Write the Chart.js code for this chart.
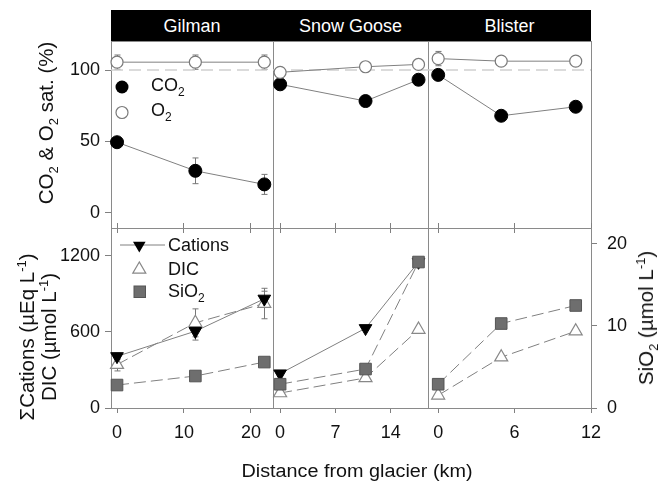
<!DOCTYPE html>
<html>
<head>
<meta charset="utf-8">
<script src="https://cdn.jsdelivr.net/npm/chart.js@4.4.0/dist/chart.umd.min.js"></script>
<style>
  body { margin: 0; width: 659px; height: 481px; background: #fff; position: relative; overflow: hidden;
         font-family: Arial, "Liberation Sans", sans-serif; color: #111; }
  canvas { position: absolute; }
  .hdr { position: absolute; top: 10px; height: 31px; background: #000; color: #fff; font-size: 18px;
         line-height: 33px; text-align: center; }
  .ttl { position: absolute; font-size: 20.5px; white-space: nowrap; line-height: 22px; text-align: center;
         transform: translate(-50%, -50%) rotate(-90deg); }
  .ttl sub, .ttl sup { font-size: 13px; }
  .xttl { position: absolute; font-size: 18px; white-space: nowrap; transform: translate(-50%, -50%) scaleX(1.1); }
  sub, sup { font-size: 12px; line-height: 0; }
  svg { position: absolute; left: 0; top: 0; }
</style>
</head>
<body>
<div class="hdr" style="left:111px;width:162px">Gilman</div>
<div class="hdr" style="left:273px;width:155px">Snow Goose</div>
<div class="hdr" style="left:428px;width:163px">Blister</div>

<canvas id="gilmanTop"></canvas>
<canvas id="snowTop"></canvas>
<canvas id="blisterTop"></canvas>
<canvas id="gilmanBottom"></canvas>
<canvas id="snowBottom"></canvas>
<canvas id="blisterBottom"></canvas>

<div class="ttl" style="left:46px;top:123px">CO<sub>2</sub> &amp; O<sub>2</sub> sat. (%)</div>
<div class="ttl" style="left:38px;top:337px">&Sigma;Cations (&micro;Eq L<sup>-1</sup>)<br>DIC (&micro;mol L<sup>-1</sup>)</div>
<div class="ttl" style="left:646px;top:318px">SiO<sub>2</sub> (&micro;mol L<sup>-1</sup>)</div>
<div class="xttl" style="left:357px;top:471px">Distance from glacier (km)</div>

<svg width="659" height="481" font-family="Arial, 'Liberation Sans', sans-serif" font-size="18" fill="#111">
  <circle cx="122" cy="87" r="6.5" fill="#000"/>
  <text x="151" y="91">CO<tspan font-size="12" dy="5">2</tspan></text>
  <circle cx="122" cy="112.5" r="6" fill="#fff" stroke="#7a7a7a" stroke-width="1.2"/>
  <text x="151" y="116">O<tspan font-size="12" dy="5">2</tspan></text>

  <line x1="120" y1="245" x2="165" y2="245" stroke="#808080" stroke-width="1"/>
  <polygon points="139.3,252.6 133,241.7 145.6,241.7" fill="#000"/>
  <text x="168" y="251">Cations</text>
  <polygon points="139.3,262 132.8,273.2 145.8,273.2" fill="#fff" stroke="#888" stroke-width="1.2"/>
  <text x="168" y="275">DIC</text>
  <rect x="134" y="286" width="11.5" height="11.5" fill="#6e6e6e" stroke="#555"/>
  <text x="168" y="297">SiO<tspan font-size="12" dy="5">2</tspan></text>
</svg>

<script>
// values
const gilmanKm = [0, 11.7, 22];
const snowGooseKm = [0, 10.8, 17.5];
const blisterKm = [0, 4.95, 10.8];

const gilmanCO2 = [49.5, 29.5, 20];
const gilmanCO2Err = [0, 9, 7];
const gilmanO2 = [105.5, 105.5, 105.5];
const gilmanO2Err = [5, 5, 5];
const snowGooseCO2 = [90, 78.3, 93.2];
const snowGooseO2 = [98.4, 102.3, 103.9];
const blisterCO2 = [96.6, 68, 74.3];
const blisterO2 = [108, 106.2, 106.2];
const blisterO2Err = [5, 0, 0];

const gilmanCations = [407, 605, 860];
const gilmanCationsErr = [25, 70, 60];
const gilmanDIC = [342, 671, 823];
const gilmanDICErr = [50, 110, 120];
const gilmanSiO2 = [2.8, 3.9, 5.6];
const snowGooseCations = [271, 628, 1150];
const snowGooseDIC = [118, 237, 618];
const snowGooseSiO2 = [2.9, 4.75, 17.8];
const blisterDIC = [100, 400, 605];
const blisterSiO2 = [2.9, 10.3, 12.5];

const gilmanKmTicks = [0, 10, 20];
const snowGooseKmTicks = [0, 7, 14];
const blisterKmTicks = [0, 6, 12];
const satTicks = [0, 50, 100];
const cationTicks = [0, 600, 1200];
const sio2Ticks = [0, 10, 20];
const satLevel = 100;

// axis ranges
const gilmanKmRange = [-0.9, 23.3];
const snowGooseKmRange = [-0.9, 18.7];
const blisterKmRange = [-0.8, 12];
const satRange = [-10.5, 120.3];
const cationRange = [0, 1418];
const sio2Range = [0, 21.95];

// panel boxes in page pixels
const cols = [[111, 273], [273, 428], [428, 591]];
const topRow = [41, 228];
const bottomRow = [228, 408];
const M = 60; // margin round each plot area, holds tick labels

const tickFont = { family: 'Arial, "Liberation Sans", sans-serif', size: 18 };
const gray = '#808080';

function pts(xs, ys) {
    return xs.map((x, i) => ({ x: x, y: ys[i] }));
}

function xAxis(range, ticks, position, showLabels) {
    return {
        type: 'linear', position: position, min: range[0], max: range[1],
        afterBuildTicks: (s) => { s.ticks = ticks.map((v) => ({ value: v })); },
        afterFit: (s) => { s.height = showLabels ? M : 0; },
        border: { display: false },
        grid: { drawOnChartArea: false, drawTicks: true, tickLength: 5, color: gray },
        ticks: { display: showLabels, font: tickFont, color: '#111', padding: 9, maxRotation: 0, autoSkip: false,
                 callback: (v) => String(v) }
    };
}

function yAxis(range, ticks, position, show, padding) {
    return {
        type: 'linear', position: position, min: range[0], max: range[1], display: show,
        afterBuildTicks: (s) => { s.ticks = ticks.map((v) => ({ value: v })); },
        afterFit: (s) => { s.width = show ? M : 0; },
        border: { display: false },
        grid: { drawOnChartArea: false, drawTicks: true, tickLength: 6, color: gray },
        ticks: { font: tickFont, color: '#111', padding: padding, autoSkip: false, callback: (v) => String(v) }
    };
}

// panel frame
const framePlugin = {
    id: 'frame',
    beforeDatasetsDraw(chart) {
        const a = chart.chartArea;
        const ctx = chart.ctx;
        ctx.save();
        ctx.strokeStyle = '#8a8a8a';
        ctx.lineWidth = 1;
        ctx.strokeRect(a.left + 0.5, a.top + 0.5, a.width, a.height);
        ctx.restore();
    }
};

// vertical error bars from dataset.errors
const errorBarPlugin = {
    id: 'errorBars',
    beforeDatasetsDraw(chart) {
        const ctx = chart.ctx;
        ctx.save();
        ctx.strokeStyle = '#777';
        ctx.lineWidth = 1;
        chart.data.datasets.forEach((ds, i) => {
            if (!ds.errors) return;
            const meta = chart.getDatasetMeta(i);
            const ys = chart.scales[ds.yAxisID || 'y'];
            ds.data.forEach((p, j) => {
                const e = ds.errors[j];
                if (!e) return;
                const px = Math.round(meta.data[j].x) + 0.5;
                const yTop = ys.getPixelForValue(p.y + e);
                const yBot = ys.getPixelForValue(p.y - e);
                ctx.beginPath();
                ctx.moveTo(px, yTop); ctx.lineTo(px, yBot);
                ctx.moveTo(px - 3, yTop); ctx.lineTo(px + 3, yTop);
                ctx.moveTo(px - 3, yBot); ctx.lineTo(px + 3, yBot);
                ctx.stroke();
            });
        });
        ctx.restore();
    }
};

function co2Set(xs, ys, err) {
    return { data: pts(xs, ys), errors: err, borderColor: gray, borderWidth: 1, tension: 0, clip: false,
        pointStyle: 'circle', pointRadius: 6.5, pointBackgroundColor: '#000', pointBorderColor: '#000' };
}
function o2Set(xs, ys, err) {
    return { data: pts(xs, ys), errors: err, borderColor: gray, borderWidth: 1, tension: 0, clip: false,
        pointStyle: 'circle', pointRadius: 6, pointBackgroundColor: '#fff', pointBorderColor: '#7a7a7a',
        pointBorderWidth: 1.2 };
}
function refSet(range) {
    return { data: [{ x: range[0], y: satLevel }, { x: range[1], y: satLevel }], borderColor: '#cfcfcf',
        borderDash: [12, 6], borderWidth: 1.5, pointRadius: 0, order: 5 };
}
function cationSet(xs, ys, err) {
    return { data: pts(xs, ys), errors: err, borderColor: gray, borderWidth: 1, tension: 0, clip: false,
        pointStyle: 'triangle', rotation: 180, pointRadius: 7.3, pointBackgroundColor: '#000', pointBorderColor: '#000' };
}
function dicSet(xs, ys, err) {
    return { data: pts(xs, ys), errors: err, borderColor: gray, borderWidth: 1, borderDash: [12, 5], tension: 0,
        clip: false, pointStyle: 'triangle', pointRadius: 7.5, pointBackgroundColor: '#fff', pointBorderColor: '#888',
        pointBorderWidth: 1.2 };
}
function sio2Set(xs, ys) {
    return { data: pts(xs, ys), yAxisID: 'y2', borderColor: gray, borderWidth: 1, borderDash: [12, 5], tension: 0,
        clip: false, pointStyle: 'rect', pointRadius: 8.2, pointBackgroundColor: '#6e6e6e', pointBorderColor: '#555',
        pointBorderWidth: 1 };
}

function panel(id, col, row, scales, datasets) {
    const [x0, x1] = cols[col];
    const [y0, y1] = row;
    const c = document.getElementById(id);
    c.width = x1 - x0 + 2 * M;
    c.height = y1 - y0 + 2 * M;
    c.style.left = (x0 - M) + 'px';
    c.style.top = (y0 - M) + 'px';
    // sides whose axis shows labels get their room from the axis box, the rest from padding
    const pad = { left: M, right: M, top: M, bottom: M };
    Object.values(scales).forEach((s) => {
        if (s.display !== false && s.ticks.display !== false) pad[s.position] = 0;
    });
    return new Chart(c, {
        type: 'line',
        data: { datasets: datasets },
        options: {
            responsive: false, animation: false, events: [],
            layout: { padding: pad },
            plugins: { legend: { display: false }, tooltip: { enabled: false } },
            scales: scales
        },
        plugins: [framePlugin, errorBarPlugin]
    });
}

// top row: CO2 & O2 saturation
panel('gilmanTop', 0, topRow,
    { x: xAxis(gilmanKmRange, gilmanKmTicks, 'bottom', false), y: yAxis(satRange, satTicks, 'left', true, 5) },
    [o2Set(gilmanKm, gilmanO2, gilmanO2Err), co2Set(gilmanKm, gilmanCO2, gilmanCO2Err), refSet(gilmanKmRange)]);
panel('snowTop', 1, topRow,
    { x: xAxis(snowGooseKmRange, snowGooseKmTicks, 'bottom', false), y: yAxis(satRange, satTicks, 'left', false, 5) },
    [o2Set(snowGooseKm, snowGooseO2), co2Set(snowGooseKm, snowGooseCO2), refSet(snowGooseKmRange)]);
panel('blisterTop', 2, topRow,
    { x: xAxis(blisterKmRange, blisterKmTicks, 'bottom', false), y: yAxis(satRange, satTicks, 'left', false, 5) },
    [o2Set(blisterKm, blisterO2, blisterO2Err), co2Set(blisterKm, blisterCO2), refSet(blisterKmRange)]);

// bottom row: cations, DIC (left) and SiO2 (right)
panel('gilmanBottom', 0, bottomRow,
    { x: xAxis(gilmanKmRange, gilmanKmTicks, 'bottom', true), x2: xAxis(gilmanKmRange, gilmanKmTicks, 'top', false),
      y: yAxis(cationRange, cationTicks, 'left', true, 5), y2: yAxis(sio2Range, sio2Ticks, 'right', false, 10) },
    [sio2Set(gilmanKm, gilmanSiO2), cationSet(gilmanKm, gilmanCations, gilmanCationsErr), dicSet(gilmanKm, gilmanDIC, gilmanDICErr)]);
panel('snowBottom', 1, bottomRow,
    { x: xAxis(snowGooseKmRange, snowGooseKmTicks, 'bottom', true), x2: xAxis(snowGooseKmRange, snowGooseKmTicks, 'top', false),
      y: yAxis(cationRange, cationTicks, 'left', false, 5), y2: yAxis(sio2Range, sio2Ticks, 'right', false, 10) },
    [sio2Set(snowGooseKm, snowGooseSiO2), cationSet(snowGooseKm, snowGooseCations), dicSet(snowGooseKm, snowGooseDIC)]);
panel('blisterBottom', 2, bottomRow,
    { x: xAxis(blisterKmRange, blisterKmTicks, 'bottom', true), x2: xAxis(blisterKmRange, blisterKmTicks, 'top', false),
      y: yAxis(cationRange, cationTicks, 'left', false, 5), y2: yAxis(sio2Range, sio2Ticks, 'right', true, 10) },
    [sio2Set(blisterKm, blisterSiO2), dicSet(blisterKm, blisterDIC)]);
</script>
</body>
</html>
